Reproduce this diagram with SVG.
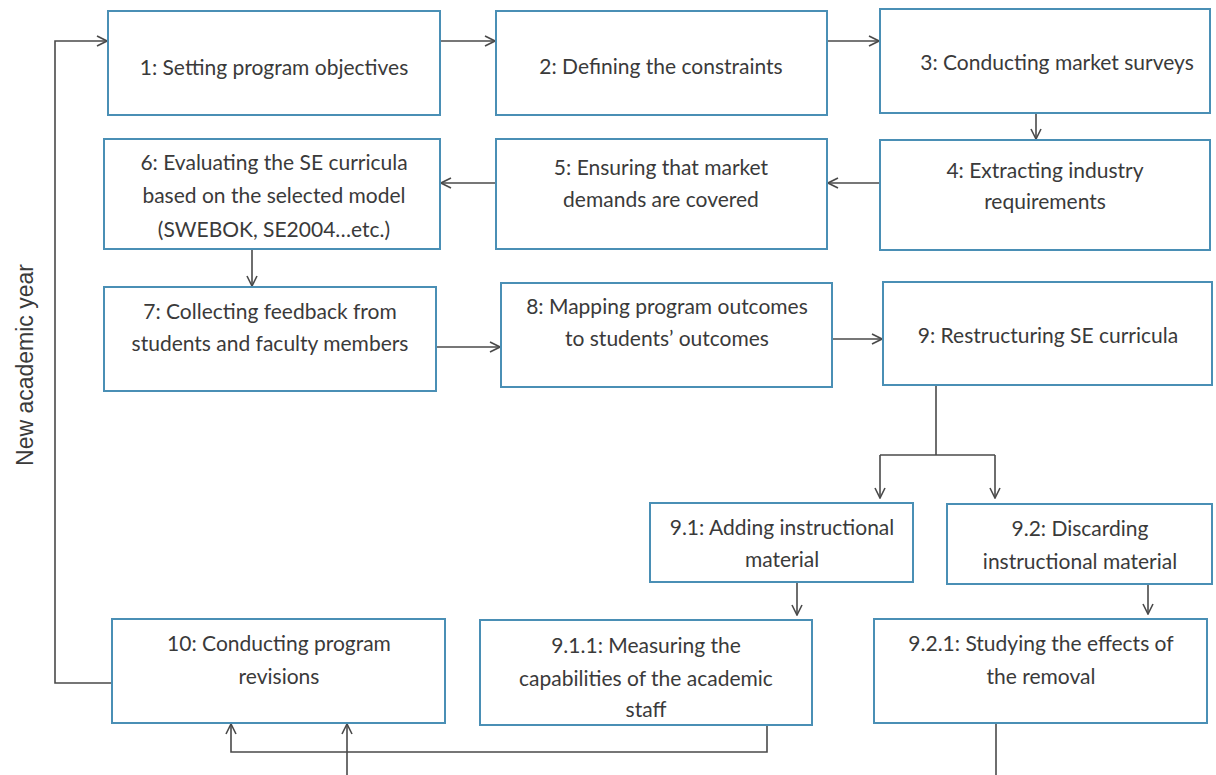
<svg xmlns="http://www.w3.org/2000/svg" width="1216" height="775" viewBox="0 0 1216 775">
  <defs>
    <style>
      .box { fill: #ffffff; stroke: #4a8fb5; stroke-width: 2; }
      .lbl { font-family: Lato, "Liberation Sans", sans-serif; font-size: 21px; fill: #3a3a3a; text-anchor: middle; }
      .side { font-family: "Liberation Sans", Arial, sans-serif; font-size: 23px; fill: #3a3a3a; text-anchor: middle; }
      .wire { fill: none; stroke: #4a4a4a; stroke-width: 1.6; }
    </style>
    <marker id="arr" viewBox="0 0 12 12" refX="11" refY="6" markerWidth="12" markerHeight="12" markerUnits="userSpaceOnUse" orient="auto">
      <path d="M1,1 L11,6 L1,11" fill="none" stroke="#4a4a4a" stroke-width="1.6"/>
    </marker>
  </defs>
  <rect width="1216" height="775" fill="#ffffff"/>

  <!-- connectors -->
  <g id="connectors">
    <path class="wire" d="M112,683 H55 V41 H107" marker-end="url(#arr)"/>
    <path class="wire" d="M440,41 H495" marker-end="url(#arr)"/>
    <path class="wire" d="M827,41 H879" marker-end="url(#arr)"/>
    <path class="wire" d="M1036,113 V139" marker-end="url(#arr)"/>
    <path class="wire" d="M880,183 H828" marker-end="url(#arr)"/>
    <path class="wire" d="M496,183 H441" marker-end="url(#arr)"/>
    <path class="wire" d="M252,249 V286" marker-end="url(#arr)"/>
    <path class="wire" d="M436,347 H500" marker-end="url(#arr)"/>
    <path class="wire" d="M832,339 H882" marker-end="url(#arr)"/>
    <path class="wire" d="M936,386 V455"/>
    <path class="wire" d="M880,455 H995"/>
    <path class="wire" d="M880,455 V498" marker-end="url(#arr)"/>
    <path class="wire" d="M995,455 V498" marker-end="url(#arr)"/>
    <path class="wire" d="M797,583 V615" marker-end="url(#arr)"/>
    <path class="wire" d="M1148,585 V614" marker-end="url(#arr)"/>
    <path class="wire" d="M767,725 V752 H231 V724" marker-end="url(#arr)"/>
    <path class="wire" d="M347,775 V724" marker-end="url(#arr)"/>
    <path class="wire" d="M996,724 V775"/>
  </g>

  <text class="side" transform="translate(33,365) rotate(-90)">New academic year</text>

  <g id="n1"><rect class="box" x="108" y="11" width="332" height="104"/>
    <text class="lbl" x="274" y="75">1: Setting program objectives</text></g>
  <g id="n2"><rect class="box" x="496" y="11" width="331" height="104"/>
    <text class="lbl" x="661" y="74">2: Defining the constraints</text></g>
  <g id="n3"><rect class="box" x="880" y="9" width="330" height="104"/>
    <text class="lbl" x="1057" y="70">3: Conducting market surveys</text></g>
  <g id="n4"><rect class="box" x="880" y="140" width="330" height="110"/>
    <text class="lbl" x="1045" y="178">4: Extracting industry</text>
    <text class="lbl" x="1045" y="209">requirements</text></g>
  <g id="n5"><rect class="box" x="496" y="139" width="331" height="110"/>
    <text class="lbl" x="661" y="175">5: Ensuring that market</text>
    <text class="lbl" x="661" y="207">demands are covered</text></g>
  <g id="n6"><rect class="box" x="104" y="139" width="336" height="110"/>
    <text class="lbl" x="274" y="170">6: Evaluating the SE curricula</text>
    <text class="lbl" x="274" y="203">based on the selected model</text>
    <text class="lbl" x="274" y="237">(SWEBOK, SE2004…etc.)</text></g>
  <g id="n7"><rect class="box" x="104" y="287" width="332" height="104"/>
    <text class="lbl" x="270" y="319">7: Collecting feedback from</text>
    <text class="lbl" x="270" y="351">students and faculty members</text></g>
  <g id="n8"><rect class="box" x="501" y="283" width="331" height="104"/>
    <text class="lbl" x="667" y="314">8: Mapping program outcomes</text>
    <text class="lbl" x="667" y="346">to students’ outcomes</text></g>
  <g id="n9"><rect class="box" x="883" y="282" width="329" height="103"/>
    <text class="lbl" x="1048" y="343">9: Restructuring SE curricula</text></g>
  <g id="n9_1"><rect class="box" x="650" y="503" width="263" height="79"/>
    <text class="lbl" x="782" y="535">9.1: Adding instructional</text>
    <text class="lbl" x="782" y="567">material</text></g>
  <g id="n9_2"><rect class="box" x="947" y="504" width="265" height="80"/>
    <text class="lbl" x="1080" y="536">9.2: Discarding</text>
    <text class="lbl" x="1080" y="569">instructional material</text></g>
  <g id="n10"><rect class="box" x="112" y="619" width="333" height="104"/>
    <text class="lbl" x="279" y="651">10: Conducting program</text>
    <text class="lbl" x="279" y="684">revisions</text></g>
  <g id="n9_1_1"><rect class="box" x="480" y="620" width="332" height="105"/>
    <text class="lbl" x="646" y="653">9.1.1: Measuring the</text>
    <text class="lbl" x="646" y="686">capabilities of the academic</text>
    <text class="lbl" x="646" y="717">staff</text></g>
  <g id="n9_2_1"><rect class="box" x="874" y="619" width="333" height="104"/>
    <text class="lbl" x="1041" y="651">9.2.1: Studying the effects of</text>
    <text class="lbl" x="1041" y="684">the removal</text></g>
</svg>
